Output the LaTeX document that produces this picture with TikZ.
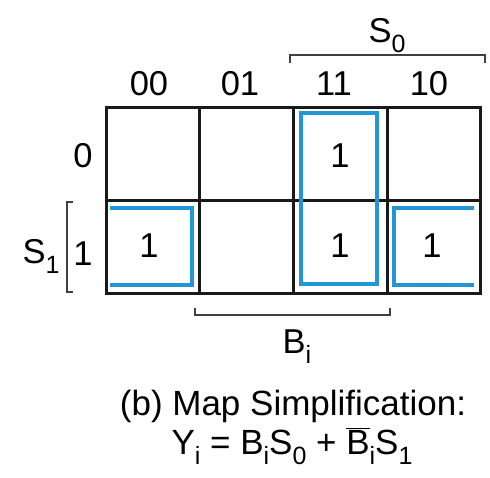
\documentclass[tikz,border=0pt]{standalone}
\usepackage{fontspec}
\setmainfont{Liberation Sans}
\definecolor{kblue}{RGB}{35,150,215}
\newcommand{\sbs}[1]{\raisebox{-0.3em}{\fontsize{25}{25}\selectfont #1}}
\begin{document}
\begin{tikzpicture}[x=1pt,y=-1pt,
  lbl/.style={inner sep=0pt,anchor=base,font=\fontsize{34.5}{34.5}\selectfont},
  captext/.style={inner sep=0pt,anchor=base,font=\fontsize{35}{35}\selectfont},
  gridline/.style={line width=3pt,black!90},
  kloop/.style={line width=3.5pt,kblue,line join=miter},
  brk/.style={line width=1.6pt,black!75}]
\useasboundingbox[fill=white] (0,0) rectangle (490,477);
% grid
\draw[gridline] (106,107) rectangle (480,293);
\foreach \x in {199,293,387} \draw[gridline] (\x,107) -- (\x,293);
\draw[gridline] (106,200) -- (480,200);
% loops
\draw[kloop] (301,113) rectangle (377,284);
\draw[kloop] (110,208) -- (192,208) -- (192,285) -- (110,285);
\draw[kloop] (474,208) -- (394,208) -- (394,285) -- (474,285);
% column labels
\node[lbl] (c00) at (149,95) {00};
\node[lbl] (c01) at (240,95) {01};
\node[lbl] (c11) at (334,95) {11};
\node[lbl] (c10) at (429,95) {10};
% row labels
\node[lbl] (r0) at (83,167) {0};
\node[lbl] (r1) at (83,265) {1};
% S0 bracket
\draw[brk] (290,63) -- (290,55) -- (485,55) -- (485,63);
\node[lbl] (s0) at (387,42) {S\sbs{0}};
% S1 bracket
\draw[brk] (73,202) -- (67,202) -- (67,292) -- (73,292);
\node[lbl] (s1) at (41,263) {S\sbs{1}};
% cell ones
\node[lbl] (m3) at (340,167) {1};
\node[lbl] (m4) at (149,257) {1};
\node[lbl] (m7) at (340,257) {1};
\node[lbl] (m6) at (432,257) {1};
% Bi bracket
\draw[brk] (195,308) -- (195,315) -- (390,315) -- (390,308);
\node[lbl] (bi) at (297,353) {B\sbs{i}};
% caption
\node[captext] (cap1) at (293,415) {(b) Map Simplification:};
\node[captext] (cap2) at (292,454) {Y\sbs{i} = B\sbs{i}S\sbs{0} + $\overline{\hbox{B}}$\sbs{i}S\sbs{1}};
\end{tikzpicture}
\end{document}
